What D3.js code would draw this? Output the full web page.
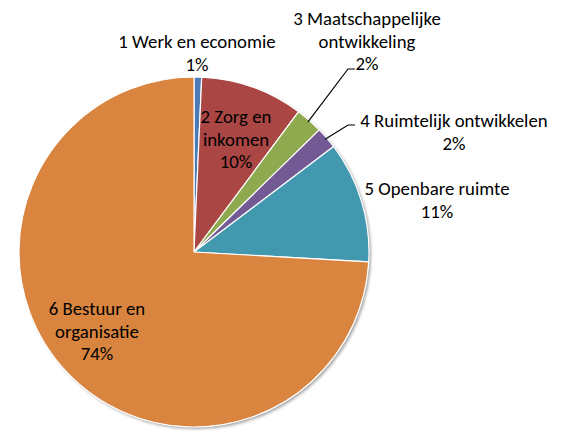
<!DOCTYPE html>
<html><head><meta charset="utf-8">
<script src="https://cdn.jsdelivr.net/npm/d3@7"></script>
<style>body{margin:0;background:#fff}svg{display:block}</style>
</head><body><svg id="c" width="566" height="431"></svg>
<script>
const categories = ["1 Werk en economie","2 Zorg en inkomen","3 Maatschappelijke ontwikkeling","4 Ruimtelijk ontwikkelen","5 Openbare ruimte","6 Bestuur en organisatie"];
const values = [0.7, 9.5, 2.5, 2.0, 11.2, 74.1];
const pctLabels = ["1%","10%","2%","2%","11%","74%"];
const colors = ["#4a7bb7","#aa4644","#8ea94e","#735a94","#4198af","#d9843f"];
// label lines per slice
const labelLines = [["1 Werk en economie","1%"],["2 Zorg en","inkomen","10%"],["3 Maatschappelijke","ontwikkeling","2%"],["4 Ruimtelijk ontwikkelen","2%"],["5 Openbare ruimte","11%"],["6 Bestuur en","organisatie","74%"]];

const svg = d3.select("#c");
const cx = 194, cy = 252, R = 175;
const pie = d3.pie().sort(null).value(d=>d)(values);
const arc = d3.arc().innerRadius(0).outerRadius(R);
const defs = svg.append("defs");
const f = defs.append("filter").attr("id","sh").attr("x","-10%").attr("y","-10%").attr("width","130%").attr("height","130%");
f.append("feGaussianBlur").attr("in","SourceAlpha").attr("stdDeviation",1.5);
f.append("feOffset").attr("dx",1.5).attr("dy",1.5).attr("result","b");
f.append("feComponentTransfer").append("feFuncA").attr("type","linear").attr("slope",0.35);
const m = f.append("feMerge"); m.append("feMergeNode"); m.append("feMergeNode").attr("in","SourceGraphic");

const g = svg.append("g").attr("transform",`translate(${cx},${cy})`);
g.append("circle").attr("r",R).attr("fill","#fff").attr("filter","url(#sh)");
g.selectAll("path").data(pie).join("path")
  .attr("d",arc).attr("fill",(d,i)=>colors[i]).attr("stroke","#fff").attr("stroke-width",1.2).attr("stroke-linejoin","round");

// label positions (center x, first baseline y) relative to the svg
const labelPos = [[197,48],[236,123],[367,25],[454,127],[437,195],[97,315]];
const lh = 22.5;
const font = "Carlito, Lato, 'Open Sans', sans-serif";
labelLines.forEach((lines,i)=>{
  const t = svg.append("text").attr("font-family",font).attr("font-size",18.8).attr("fill","#000").attr("text-anchor","middle");
  lines.forEach((s,j)=>t.append("tspan").attr("x",labelPos[i][0]).attr("y",labelPos[i][1]+j*lh).text(s));
});

// leader lines for slices 3 and 4
function leader(i, ex, ey, tx){
  const a = (pie[i].startAngle+pie[i].endAngle)/2;
  const sx = cx + Math.sin(a)*(R-2), sy = cy - Math.cos(a)*(R-2);
  svg.append("path").attr("d",`M${sx},${sy}L${ex},${ey}L${tx},${ey}`).attr("fill","none").attr("stroke","#000").attr("stroke-width",1.2);
}
leader(2, 348, 69, 355);
leader(3, 348, 125, 355);
</script></body></html>
